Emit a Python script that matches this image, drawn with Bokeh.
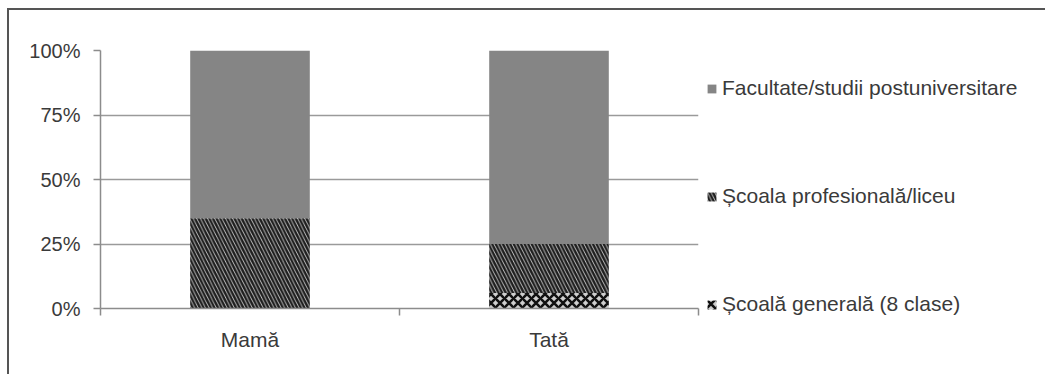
from bokeh.plotting import figure
from bokeh.models import (ColumnDataSource, Range1d, FixedTicker, Legend, LegendItem,
                          NumeralTickFormatter)
from bokeh.embed import file_html
from bokeh.resources import INLINE

categories = ["Mamă", "Tată"]
series = ["Școală generală (8 clase)", "Școala profesională/liceu", "Facultate/studii postuniversitare"]
generala = [0.0, 0.06]
profesionala = [0.35, 0.19]
facultate = [0.65, 0.75]
y_ticks = [0, 0.25, 0.5, 0.75, 1.0]

keys = ["generala", "profesionala", "facultate"]
xs = [i + 0.5 for i in range(len(categories))]
source = ColumnDataSource(dict(x=xs, generala=generala, profesionala=profesionala, facultate=facultate))

p = figure(frame_width=598, frame_height=258, output_backend="svg", toolbar_location=None,
           x_range=Range1d(0, len(categories)), y_range=Range1d(0, 1),
           min_border_left=91, min_border_top=40, min_border_bottom=66, min_border_right=336,
           background_fill_color="white", border_fill_color="white")
p.outline_line_color = None
p.styles = {"margin-left": "7px", "margin-top": "8px",
            "border-left": "2px solid #555555", "border-top": "2px solid #555555"}

renderers = p.vbar_stack(keys, x="x", width=0.4, source=source,
                         fill_color=["#cfcfcf", "#cccccc", "#858585"],
                         hatch_pattern=["diagonal_cross", "left_diagonal_line", " "],
                         hatch_color=["#111111", "#1e1e1e", "#858585"],
                         hatch_weight=[2.6, 2.4, 1],
                         hatch_scale=[9, 7.2, 6],
                         line_color=None)

# axes
yax = p.yaxis[0]
yax.ticker = FixedTicker(ticks=y_ticks)
yax.formatter = NumeralTickFormatter(format="0%")
yax.axis_line_color = "#8c8c8c"
yax.axis_line_width = 1.5
yax.major_tick_line_color = "#8c8c8c"
yax.major_tick_line_width = 1.5
yax.major_tick_out = 7
yax.major_tick_in = 0
yax.minor_tick_line_color = None
yax.major_label_text_font = "Liberation Sans"
yax.major_label_text_font_size = "20px"
yax.major_label_text_color = "#3a3a3a"
yax.major_label_standoff = 13

xax = p.xaxis[0]
xax.ticker = FixedTicker(ticks=xs, minor_ticks=list(range(len(categories) + 1)))
xax.major_label_overrides = {x: c for x, c in zip(xs, categories)}
xax.axis_line_color = "#8c8c8c"
xax.axis_line_width = 1.5
xax.major_tick_line_color = None
xax.minor_tick_line_color = "#8c8c8c"
xax.minor_tick_line_width = 1.5
xax.minor_tick_out = 7
xax.minor_tick_in = 0
xax.major_label_text_font = "Liberation Sans"
xax.major_label_text_font_size = "21px"
xax.major_label_text_color = "#3a3a3a"
xax.major_label_standoff = 12

p.xgrid.grid_line_color = None
p.ygrid.ticker = FixedTicker(ticks=y_ticks)
p.ygrid.grid_line_color = "#9a9a9a"
p.ygrid.grid_line_width = 1.5

items = [LegendItem(label=series[i], renderers=[renderers[i]]) for i in reversed(range(3))]
legend = Legend(items=items, location="top_left", orientation="vertical",
                margin=8, padding=0, spacing=48, label_height=60,
                glyph_width=11, glyph_height=11, label_standoff=5,
                label_text_font="Liberation Sans", label_text_font_size="21px",
                label_text_color="#3a3a3a", border_line_color=None,
                background_fill_alpha=0)
p.add_layout(legend, "right")

open("out.html", "w").write(file_html(p, INLINE))
